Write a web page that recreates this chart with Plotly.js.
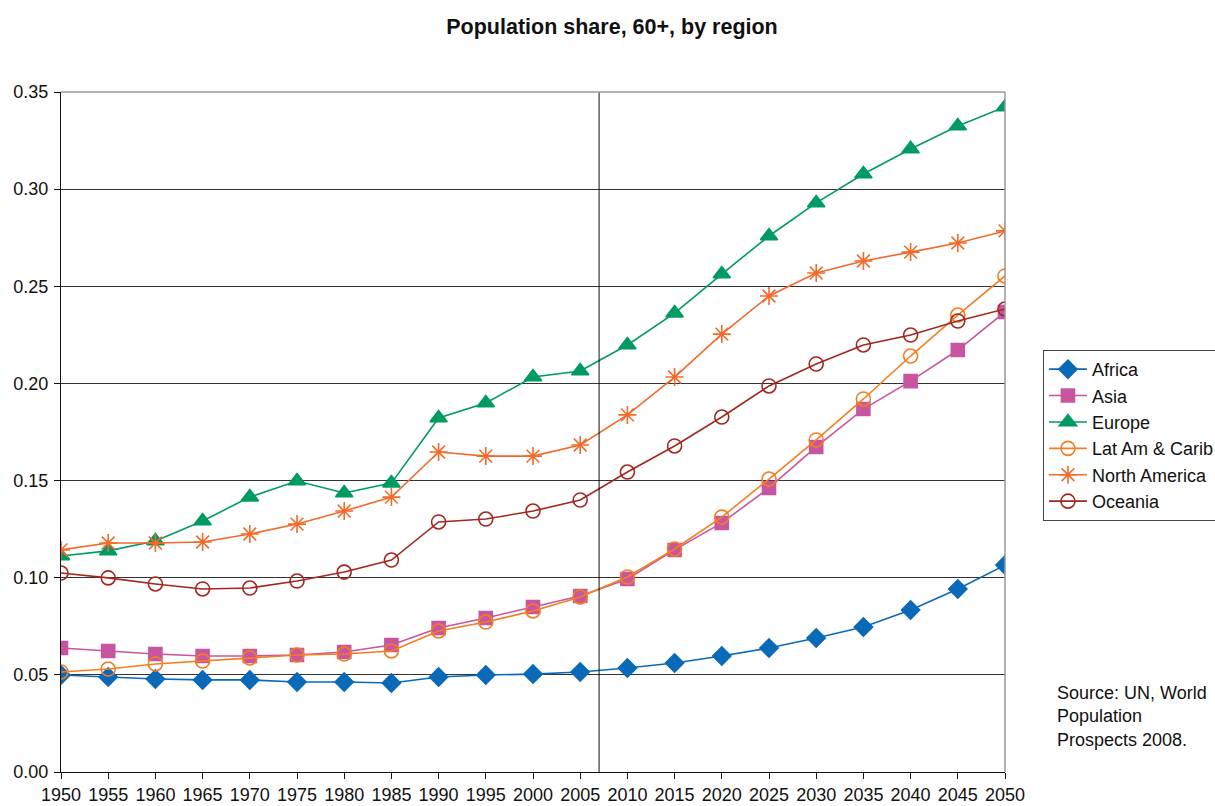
<!DOCTYPE html>
<html>
<head>
<meta charset="utf-8">
<script src="https://cdn.plot.ly/plotly-3.0.1.min.js"></script>
<style>html,body{margin:0;padding:0;background:#fff;}#chart{width:1215px;height:806px;}</style>
</head>
<body>
<div id="chart"></div>
<script>
const years = [1950,1955,1960,1965,1970,1975,1980,1985,1990,1995,2000,2005,2010,2015,2020,2025,2030,2035,2040,2045,2050];
const africa = [0.0499,0.0489,0.0479,0.0474,0.0474,0.0463,0.0463,0.0458,0.0489,0.0499,0.0504,0.0515,0.0535,0.0561,0.0597,0.0638,0.0690,0.0746,0.0834,0.0942,0.1065];
const asia = [0.0638,0.0623,0.0607,0.0597,0.0597,0.0602,0.0618,0.0654,0.0741,0.0793,0.0849,0.0906,0.0993,0.1143,0.1282,0.1462,0.1673,0.1868,0.2012,0.2172,0.2368];
const europe = [0.1112,0.1138,0.1189,0.1292,0.1415,0.1498,0.1436,0.1487,0.1822,0.1899,0.2033,0.2064,0.2198,0.2362,0.2563,0.2759,0.2929,0.3078,0.3207,0.3325,0.3423];
const latam = [0.0515,0.0530,0.0556,0.0571,0.0587,0.0602,0.0607,0.0623,0.0726,0.0772,0.0829,0.0901,0.1004,0.1148,0.1312,0.1508,0.1709,0.1920,0.2141,0.2352,0.2553];
const northAmerica = [0.1143,0.1179,0.1179,0.1184,0.1225,0.1276,0.1343,0.1415,0.1647,0.1626,0.1626,0.1683,0.1838,0.2033,0.2254,0.2450,0.2568,0.2630,0.2676,0.2723,0.2785];
const oceania = [0.1024,0.0999,0.0968,0.0942,0.0947,0.0983,0.1029,0.1091,0.1287,0.1302,0.1343,0.1400,0.1544,0.1678,0.1827,0.1987,0.2100,0.2198,0.2249,0.2321,0.2383];
const seriesNames = ['Africa','Asia','Europe','Lat Am & Carib','North America','Oceania'];
const yTicks = [0,0.05,0.10,0.15,0.20,0.25,0.30,0.35];
const dividerYear = 2007;
const sourceText = 'Source: UN, World<br>Population<br>Prospects 2008.';

const styles = [
  {color:'#0a6ab8', symbol:'diamond', size:14},
  {color:'#c8559f', symbol:'square', size:13},
  {color:'#009a63', symbol:'triangle-up', size:15},
  {color:'#f47d20', symbol:'circle-open', size:14},
  {color:'#f26a2a', symbol:'asterisk-open', size:15},
  {color:'#a3271f', symbol:'circle-open', size:14}
];
const data = [africa, asia, europe, latam, northAmerica, oceania];
const traces = data.map((d,i)=>({
  x: years, y: d, name: seriesNames[i], type:'scatter', mode:'lines+markers',
  line:{color:styles[i].color, width:1.6},
  marker:{symbol:styles[i].symbol, size:styles[i].size, color:styles[i].color,
          line:{color:styles[i].color, width:1.6}}
}));

const layout = {
  width:1215, height:806,
  margin:{l:61, r:210, t:92, b:34},
  paper_bgcolor:'#fff', plot_bgcolor:'#fff',
  font:{family:'Liberation Sans, Arial, sans-serif', size:18, color:'#111'},
  title:{text:'<b>Population share, 60+, by region</b>', x:0.5037, xref:'container', xanchor:'center', y:0.967, yanchor:'middle', font:{size:21.5, color:'#111'}},
  showlegend:true,
  legend:{xref:'container', yref:'container', x:0.8584, xanchor:'left', y:0.5658, yanchor:'top', bordercolor:'#444', borderwidth:1,
          font:{size:18, color:'#111'}, tracegroupgap:0, itemwidth:38},
  xaxis:{range:[1950,2050], tickvals:years, ticktext:years.map(String), showgrid:false, zeroline:false,
         showline:true, linecolor:'#111', linewidth:1, ticks:'outside', ticklen:6, tickcolor:'#111',
         tickfont:{size:18}, ticklabelstandoff:0, automargin:false},
  yaxis:{range:[0,0.35], tickvals:yTicks, tickformat:'.2f', showgrid:true, gridcolor:'#333', gridwidth:1,
         zeroline:false, showline:true, linecolor:'#111', linewidth:1, ticks:'outside', ticklen:6, tickcolor:'#111',
         tickfont:{size:18}, ticklabelstandoff:2, automargin:false},
  shapes:[
    {type:'line', xref:'x', yref:'paper', x0:dividerYear, x1:dividerYear, y0:0, y1:1, line:{color:'#111', width:1}},
    {type:'line', xref:'paper', yref:'paper', x0:0, x1:1, y0:1, y1:1, line:{color:'#999', width:1.5}},
    {type:'line', xref:'paper', yref:'paper', x0:1, x1:1, y0:0, y1:1, line:{color:'#999', width:1.5}}
  ],
  annotations:[
    {xref:'paper', yref:'paper', x:1.0526, y:0.134, xanchor:'left', yanchor:'top', align:'left', showarrow:false,
     text:sourceText, font:{size:18, color:'#111'}}
  ]
};
Plotly.newPlot('chart', traces, layout, {displayModeBar:false, staticPlot:true});
</script>
</body>
</html>
